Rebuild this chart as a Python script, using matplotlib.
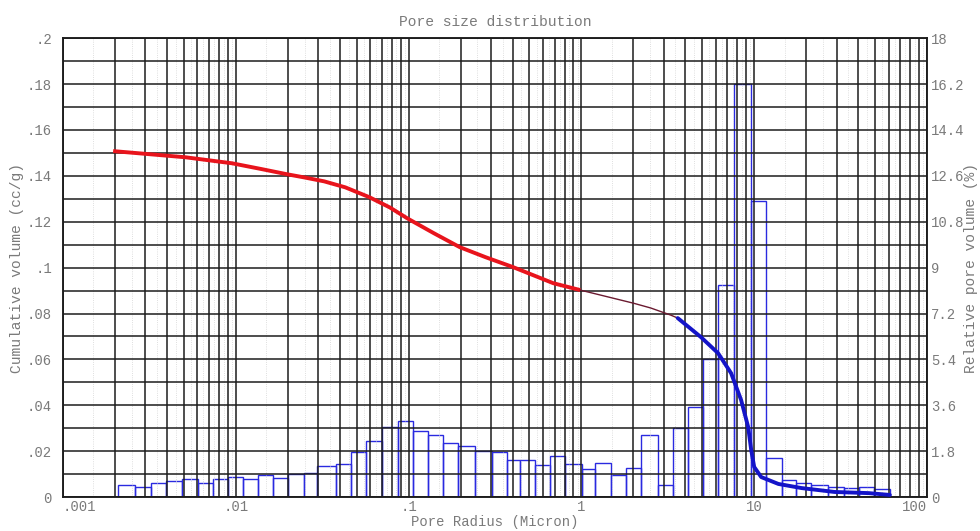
import numpy as np
import matplotlib.pyplot as plt
from matplotlib.ticker import FixedLocator, LogLocator, NullFormatter

# relative pore volume histogram (%), bins given by their radius edges in micron
bin_edges = [0.00209, 0.00262, 0.00321, 0.00397, 0.00485, 0.00601, 0.00734, 0.00898,
             0.0110, 0.0134, 0.0164, 0.0200, 0.0248, 0.0296, 0.0381, 0.0467, 0.0570,
             0.0697, 0.0863, 0.1054, 0.1288, 0.1578, 0.1928, 0.242, 0.304, 0.372,
             0.442, 0.541, 0.661, 0.807, 1.014, 1.206, 1.475, 1.802, 2.20, 2.77, 3.38,
             4.13, 5.05, 6.18, 7.65, 9.61, 11.7, 14.4, 17.5, 21.4, 26.9, 32.9, 40.3,
             49.2, 61.0]
rel_volume = [0.47, 0.39, 0.55, 0.63, 0.70, 0.55, 0.70, 0.78, 0.70, 0.86, 0.74, 0.90,
              0.94, 1.22, 1.29, 1.76, 2.20, 2.74, 3.00, 2.60, 2.43, 2.12, 2.00, 1.80,
              1.76, 1.45, 1.45, 1.27, 1.60, 1.31, 1.10, 1.33, 0.88, 1.14, 2.43, 0.47,
              2.70, 3.55, 5.40, 8.30, 16.2, 11.6, 1.53, 0.67, 0.55, 0.47, 0.39, 0.35,
              0.39, 0.31]

# cumulative intrusion volume (cc/g) against pore radius (micron)
curve_radius = [0.00195, 0.00512, 0.00948, 0.0140, 0.0198, 0.0250, 0.0325, 0.0430,
                0.0593, 0.0780, 0.0987, 0.140, 0.198, 0.280, 0.403, 0.688, 0.986,
                2.0, 2.52, 3.29, 3.61, 4.92, 6.18, 7.35, 8.40, 9.23, 9.61, 10.0,
                10.98, 13.8, 18.8, 29.2, 46.0, 61.0]
curve_volume = [0.1508, 0.1481, 0.1455, 0.1430, 0.1407, 0.1393, 0.1376, 0.1350,
                0.1307, 0.1262, 0.1214, 0.1150, 0.1089, 0.1045, 0.1002, 0.0932,
                0.0902, 0.0845, 0.0824, 0.0793, 0.0780, 0.0697, 0.0627, 0.0540,
                0.0423, 0.0305, 0.0205, 0.0131, 0.0087, 0.0057, 0.0039, 0.0022,
                0.0017, 0.0009]

x_ticks = [0.001, 0.01, 0.1, 1, 10, 100]
x_labels = ['.001', '.01', '.1', '1', '10', '100']
left_ticks = [0, 0.02, 0.04, 0.06, 0.08, 0.1, 0.12, 0.14, 0.16, 0.18, 0.2]
left_labels = ['0', '.02', '.04', '.06', '.08', '.1', '.12', '.14', '.16', '.18', '.2']
right_ticks = [0, 1.8, 3.6, 5.4, 7.2, 9, 10.8, 12.6, 14.4, 16.2, 18]
right_labels = ['0', '1.8', '3.6', '5.4', '7.2', '9', '10.8', '12.6', '14.4', '16.2', '18']

plt.rcParams['font.family'] = ['Liberation Mono', 'DejaVu Sans Mono']
txt = '#7a7a7a'

fig = plt.figure(figsize=(9.8, 5.31), dpi=100)
ax = fig.add_axes([0.0643, 0.064, 0.8816, 0.864])
ax2 = ax.twinx()
ax.set_zorder(ax2.get_zorder() + 1)
ax.patch.set_visible(False)

# histogram on the right-hand axis
edges = np.array(bin_edges)
ax2.bar(edges[:-1], rel_volume, width=np.diff(edges), align='edge',
        fill=False, edgecolor='#2a2ae0', linewidth=1.0)
ax2.set_ylim(0, 18)
ax2.set_yticks(right_ticks, right_labels)

# cumulative curve: red low-pressure part, thin join, blue high-pressure part
r = np.array(curve_radius)
v = np.array(curve_volume)
red = r <= 1.0
mid = (r >= 0.98) & (r <= 3.7)
blue = r >= 3.6
ax.plot(r[red], v[red], color='#e8141c', lw=2.8, solid_capstyle='butt',
        solid_joinstyle='round', zorder=3)
ax.plot(r[mid], v[mid], color='#6a1a30', lw=1.0, zorder=3)
ax.plot(r[blue], v[blue], color='#1414c8', lw=2.8, solid_capstyle='round',
        solid_joinstyle='round', zorder=3)

ax.set_xscale('log')
ax.set_xlim(0.001, 100)
ax.set_ylim(0, 0.2)
ax.set_xticks(x_ticks, x_labels)
ax.xaxis.set_minor_locator(LogLocator(base=10, subs=np.arange(2, 10)))
ax.xaxis.set_minor_formatter(NullFormatter())
ax.set_yticks(left_ticks, left_labels)
ax.yaxis.set_minor_locator(FixedLocator(np.arange(0.01, 0.2, 0.02)))

ax.set_axisbelow(True)
ax.grid(which='both', color='#1c1c1c', lw=1.1)

# faint dotted lines half way between the log grid lines
for dec in [0.001, 0.01, 0.1, 1, 10]:
    for k in np.arange(1.5, 10, 1.0):
        ax.axvline(dec * k, color='#d4d4d4', lw=0.6, ls=':', zorder=0.4)

for a in (ax, ax2):
    a.tick_params(which='both', length=0, labelcolor=txt, labelsize=10)
    for s in a.spines.values():
        s.set_color('#1c1c1c')
        s.set_linewidth(1.1)
ax.tick_params(axis='x', pad=2)
ax.tick_params(axis='y', pad=8)
ax2.tick_params(axis='y', pad=3)

xl = ax.get_xticklabels()
xl[0].set_ha('left')
xl[-1].set_ha('right')

ax.set_title('Pore size distribution', color=txt, fontsize=10.5, pad=9)
ax.set_xlabel('Pore Radius (Micron)', color=txt, fontsize=10)
ax.xaxis.set_label_coords(0.5, -0.039)
ax.set_ylabel('Cumulative volume (cc/g)', color=txt, fontsize=10.5)
ax.yaxis.set_label_coords(-0.045, 0.5)
ax2.set_ylabel('Relative pore volume (%)', color=txt, fontsize=10.5)
ax2.yaxis.set_label_coords(1.043, 0.5)

fig.savefig('out.png', dpi=100, facecolor='white')
